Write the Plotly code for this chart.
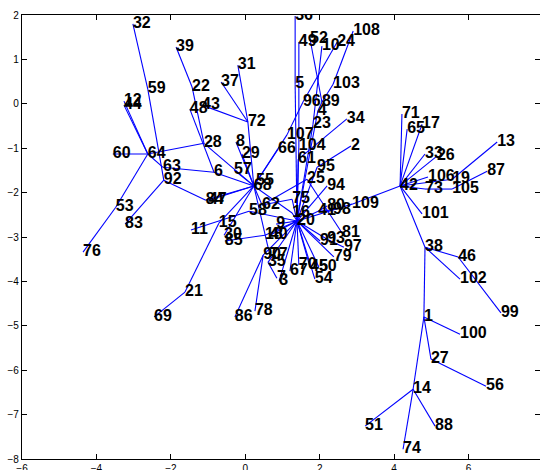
import plotly.graph_objects as go

# Node labels and positions (data units)
node_ids = [1, 2, 3, 4, 5, 6, 7, 8, 9, 10, 11, 12, 13, 14, 15, 16, 17, 18, 19, 20,
            21, 22, 23, 24, 25, 26, 27, 28, 29, 30, 31, 32, 33, 34, 35, 36, 37, 38, 39, 40,
            41, 42, 43, 44, 45, 46, 47, 48, 49, 50, 51, 52, 53, 54, 55, 56, 57, 58, 59, 60,
            61, 62, 63, 64, 65, 66, 67, 68, 69, 70, 71, 72, 73, 74, 75, 76, 77, 78, 79, 80,
            81, 83, 84, 85, 86, 87, 88, 89, 90, 91, 92, 93, 94, 95, 96, 97, 98, 99, 100,
            101, 102, 103, 104, 105, 106, 107, 108, 109]
node_x = [4.80, 2.84, 0.91, 1.95, 1.34, -0.84, 0.85, -0.25, 0.83, 2.06, -1.46, -3.26, 6.77, 4.51, -0.71, 1.26, 4.75, 0.53, 5.56, 1.39,
          -1.62, -1.43, 1.82, 2.47, 1.66, 5.15, 4.99, -1.11, -0.09, -0.57, -0.20, -3.02, 4.83, 2.73, 0.61, 1.34, -0.65, 4.83, -1.86, 0.66,
          1.96, 4.16, -1.16, -3.26, 1.74, 5.72, -0.98, -1.49, 1.44, 1.98, 3.22, 1.74, -3.48, 1.87, 0.29, 6.47, -0.30, 0.10, -2.62, -3.56,
          1.42, 0.45, -2.21, -2.62, 4.35, 0.88, 1.20, 0.23, -2.45, 1.44, 4.21, 0.07, 4.83, 4.24, 1.26, -4.36, 0.66, 0.26, 2.38, 2.20,
          2.60, -3.23, -1.06, -0.55, -0.28, 6.50, 5.10, 2.06, 0.48, 2.01, -2.19, 2.20, 2.20, 1.93, 1.55, 2.65, 2.36, 6.87, 5.77,
          4.75, 5.77, 2.36, 1.44, 5.56, 4.91, 1.12, 2.90, 2.87]
node_y = [-4.80, -0.95, -3.99, -0.16, 0.44, -1.54, -3.93, -0.86, -2.71, 1.30, -2.84, 0.06, -0.86, -6.43, -2.69, -2.46, -0.46, -2.96, -1.70, -2.64,
          -4.24, 0.38, -0.46, 1.39, -1.70, -1.18, -5.75, -0.89, -1.13, -2.96, 0.87, 1.80, -1.13, -0.34, -3.57, 1.98, 0.49, -3.23, 1.28, -2.96,
          -2.42, -1.85, -0.03, -0.03, -3.68, -3.45, -2.17, -0.12, 1.39, -3.68, -7.26, 1.46, -2.33, -3.95, -1.74, -6.36, -1.49, -2.42, 0.33, -1.13,
          -1.25, -2.28, -1.43, -1.13, -0.57, -1.02, -3.77, -1.85, -4.80, -3.63, -0.23, -0.41, -1.92, -7.78, -2.15, -3.34, -3.41, -4.67, -3.45, -2.30,
          -2.91, -2.71, -2.17, -3.09, -4.80, -1.52, -7.26, 0.04, -3.41, -3.09, -1.72, -3.05, -1.85, -1.43, 0.04, -3.23, -2.39, -4.71, -5.19,
          -2.48, -3.95, 0.44, -0.95, -1.92, -1.65, -0.70, 1.64, -2.26]

# Tree edges (node a -- node b)
edge_a = [32, 59, 92, 92, 84, 47, 64, 64, 64, 64, 53, 64, 63, 64, 39, 22, 28, 48, 6,
          43, 31, 37, 72, 8, 29, 57, 15, 21, 69, 30, 85, 11, 58, 62, 55, 66, 107, 16, 16,
          20, 90, 90, 68,
          36, 5, 49, 104, 34, 61, 52, 108, 103, 89, 4, 10, 23, 24, 96, 95, 95, 25, 25, 62, 75, 94, 9,
          20, 35, 20, 20, 20, 20, 20, 20, 20, 20, 20, 93, 20, 41, 41, 20, 109, 20, 20,
          42, 42, 42, 42, 42, 42, 42, 19, 42, 73, 105, 42, 42, 38, 46, 38, 38, 1, 1, 27, 1, 14, 14, 14]
edge_b = [59, 92, 83, 84, 68, 68, 12, 44, 60, 53, 76, 63, 6, 28, 22, 28, 68, 6, 68,
          72, 72, 72, 68, 68, 68, 68, 68, 15, 21, 68, 18, 58, 20, 68, 68, 68, 68, 68, 20,
          90, 86, 78, 77,
          5, 20, 104, 20, 61, 20, 89, 103, 89, 4, 20, 23, 20, 96, 107, 2, 20, 81, 62, 75, 20, 20, 20,
          35, 7, 3, 67, 70, 45, 50, 54, 79, 91, 93, 97, 41, 80, 98, 109, 42, 18, 40,
          71, 65, 17, 33, 26, 106, 19, 13, 73, 105, 87, 101, 38, 46, 99, 102, 1, 100, 27, 56, 14, 51, 88, 74]

pos = {n: (x, y) for n, x, y in zip(node_ids, node_x, node_y)}
lx, ly = [], []
for a, b in zip(edge_a, edge_b):
    lx += [pos[a][0], pos[b][0], None]
    ly += [pos[a][1], pos[b][1], None]

fig = go.Figure()
fig.add_trace(go.Scatter(x=lx, y=ly, mode="lines",
                         line=dict(color="#0000ff", width=1.1),
                         hoverinfo="skip", showlegend=False))
fig.add_trace(go.Scatter(x=node_x, y=node_y, mode="text",
                         text=[str(n) for n in node_ids],
                         textposition="middle right",
                         textfont=dict(family="Liberation Sans, Arial, sans-serif",
                                       size=16, color="black", weight="bold"),
                         hoverinfo="skip", showlegend=False))

axis_common = dict(showgrid=False, zeroline=False, showline=True, linecolor="black",
                   linewidth=1.3, mirror="ticks", ticks="inside", ticklen=5,
                   tickcolor="black", tickwidth=1, automargin=False,
                   tickfont=dict(family="Liberation Sans, Arial, sans-serif", size=10, color="black"))

fig.update_layout(
    template="none",
    width=540, height=470, autosize=False,
    margin=dict(l=22, r=0, t=15, b=11, pad=0),
    paper_bgcolor="white", plot_bgcolor="white",
    xaxis=dict(range=[-6, 7.92], tickmode="array", tickvals=[-6, -4, -2, 0, 2, 4, 6, 8],
               **axis_common),
    yaxis=dict(range=[-8, 2], tickmode="array", tickvals=[-8, -7, -6, -5, -4, -3, -2, -1, 0, 1, 2],
               **axis_common),
)

fig.write_html("out.html", config={"displayModeBar": False},
               post_script="document.body.style.margin='0';")
